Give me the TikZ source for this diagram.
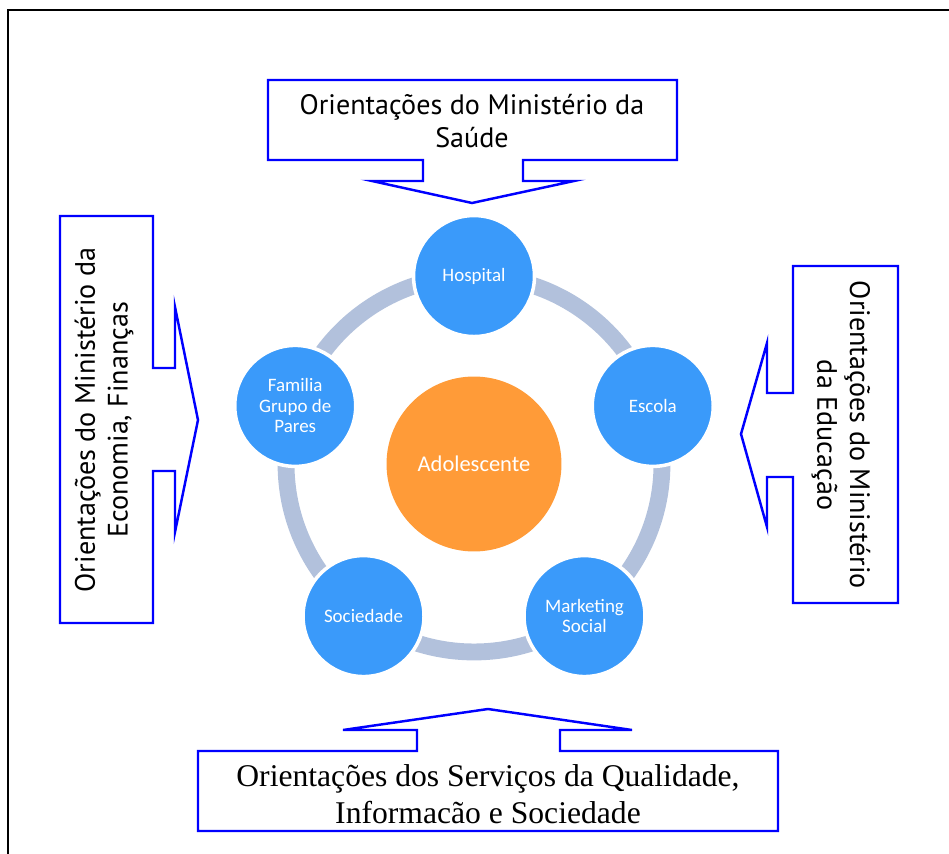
\documentclass[tikz,border=0pt]{standalone}
\usepackage{fontspec}
\setmainfont{Liberation Serif}
\newfontfamily\boxfont{PT Sans}
\newfontfamily\circfont{Carlito}
\usetikzlibrary{
  positioning,
  calc,
}
\definecolor{nodeblue}{RGB}{58,154,250}
\definecolor{coreorange}{RGB}{255,155,56}
\definecolor{ringgray}{RGB}{178,193,220}
\definecolor{calloutblue}{RGB}{0,0,255}
\tikzset{
  callout/.style={draw=calloutblue, line width=1.4pt, line join=miter},
}

\begin{document}
\begin{tikzpicture}[
      x=0.02cm, y=-0.02cm, % pixel grid, y going down
      every node/.style={
        align=center,
      },
      actor/.style={circle,
        fill=nodeblue,
        draw=white,
        line width=2pt,
        minimum size=2.42cm,
        inner sep=0pt,
        text=white,
        font=\circfont\fontsize{10.8}{11.7}\selectfont,
      },
      core/.style={circle,
        fill=coreorange,
        minimum size=3.5cm,
        inner sep=0pt,
        text=white,
        font=\circfont\fontsize{12.8}{14}\selectfont,
      },
      calltext/.style={
        font=\boxfont\fontsize{16}{18.7}\selectfont,
      },
      ring/.style={draw=ringgray,
        line width=9.6pt,
      },
      ]
      \useasboundingbox (0,0) rectangle (949,854);
      \clip (0,0) rectangle (949,854);
      \draw[line width=1.2pt] (8,900) -- (8,10) -- (1000,10);

      \node[core] (adol) at (474,464) {Adolescente};
      \draw[ring] (adol) circle[radius=3.76cm];

      \node[actor] (hosp) at ($(adol)+(90:3.76cm)$) {Hospital};
      \node[actor] (escola) at ($(adol)+(18:3.76cm)$) {Escola};
      \node[actor] (mkt) at ($(adol)+(-54:3.76cm)$) {Marketing \\ Social};
      \node[actor] (soc) at ($(adol)+(-126:3.76cm)$) {Sociedade};
      \node[actor] (fam) at ($(adol)+(162:3.76cm)$) {Familia \\ Grupo de \\ Pares};

      % callouts
      \draw[callout] (268,80) -- (677,80) -- (677,160) -- (523,160) -- (523,181)
        -- (574,181) -- (472,203) -- (372,181) -- (423,181) -- (423,160)
        -- (268,160) -- cycle;
      \draw[callout] (60,216) -- (153,216) -- (153,368) -- (175,368) -- (175,307)
        -- (198,420) -- (175,532) -- (175,471) -- (153,471) -- (153,623)
        -- (60,623) -- cycle;
      \draw[callout] (898,266) -- (793,266) -- (793,393) -- (767,393) -- (767,343)
        -- (741,434) -- (767,527) -- (767,477) -- (793,477) -- (793,603)
        -- (898,603) -- cycle;
      \draw[callout] (198,751) -- (417,751) -- (417,730) -- (343,730) -- (488,709)
        -- (632,730) -- (560,730) -- (560,751) -- (778,751) -- (778,831)
        -- (198,831) -- cycle;

      \node[calltext] (saude) at (472,121) {Orientações do Ministério da \\ Saúde};
      \node[calltext, rotate=90] (economia) at (104,420) {Orientações do Ministério da \\ Economia, Finanças};
      \node[calltext, rotate=-90] (educacao) at (841,435) {Orientações do Ministério \\ da Educação};
      \node[font=\fontsize{18}{21}\selectfont] (servicos) at (488,794) {Orientações dos Serviços da Qualidade, \\ Informacão e Sociedade};
    \end{tikzpicture}
\end{document}
